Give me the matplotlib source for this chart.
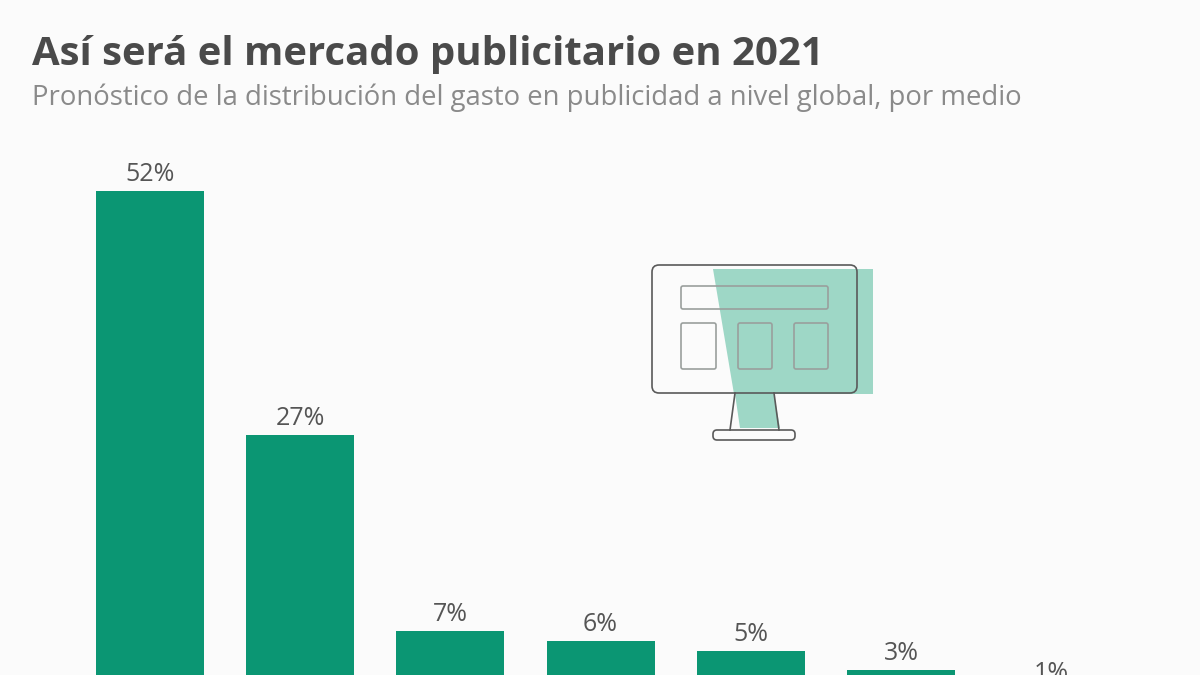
#!/usr/bin/env python3
import matplotlib
matplotlib.use("Agg")
import matplotlib.pyplot as plt
from matplotlib.patches import FancyBboxPatch, Polygon, Rectangle

values = [52, 27, 7, 6, 5, 3, 1]
labels = ["52%", "27%", "7%", "6%", "5%", "3%", "1%"]
title = "Así será el mercado publicitario en 2021"
subtitle = "Pronóstico de la distribución del gasto en publicidad a nivel global, por medio"

BG = "#fbfbfb"
GREEN = "#0b9673"
LIGHT = "#9ed7c6"
INK = "#4a4a4a"
LINE = "#5a5a5a"
LINE_SOFT = "#9a9f9d"

plt.rcParams["font.family"] = ["Open Sans", "DejaVu Sans"]

fig = plt.figure(figsize=(12, 6.75), dpi=100, facecolor=BG)

# eje de barras: 1% = 9.78 px aprox., base fuera del recorte
ax = fig.add_axes([0, 0, 1, 1])
ax.set_facecolor("none")
ax.set_xlim(0, 1200)
ax.set_ylim(675, 0)
ax.axis("off")

px_per_pct = 9.78
base_y = 191 + 52 * px_per_pct
for i, (v, lab) in enumerate(zip(values, labels)):
    cx = 150 + i * 150.2
    top = base_y - v * px_per_pct
    ax.add_patch(Rectangle((cx - 54, top), 108, v * px_per_pct, color=GREEN, lw=0))
    ax.text(cx, top - 10, lab, ha="center", va="baseline", fontsize=18, color="#555555")

fig.text(32 / 1200, 1 - 55 / 675, title, fontsize=28.9, fontweight="bold", color=INK, va="center")
fig.text(32 / 1200, 1 - 98 / 675, subtitle, fontsize=19.85, color="#8a8a8a", va="center")

# icono de monitor
ax.add_patch(Polygon([(713, 269), (873, 269), (873, 394), (734, 394)], color=LIGHT, lw=0))
ax.add_patch(Polygon([(735, 394), (774, 394), (780, 428), (740, 428)], color=LIGHT, lw=0))


def box(x, y, w, h, r=3, lw=1.2, color=LINE):
    ax.add_patch(FancyBboxPatch((x + r, y + r), w - 2 * r, h - 2 * r,
                                boxstyle=f"round,pad={r}", fc="none", ec=color, lw=lw))


box(652, 265, 205, 128, r=7)
box(681, 286, 147, 23, r=2, color=LINE_SOFT)
box(681, 323, 35, 46, r=2, color=LINE_SOFT)
box(738, 323, 34, 46, r=2, color=LINE_SOFT)
box(794, 323, 34, 46, r=2, color=LINE_SOFT)
box(713, 430, 82, 10, r=4)
ax.plot([735, 730], [393, 430], color=LINE, lw=1.2)
ax.plot([774, 779], [393, 430], color=LINE, lw=1.2)

fig.savefig("out.png", dpi=100, facecolor=BG)
